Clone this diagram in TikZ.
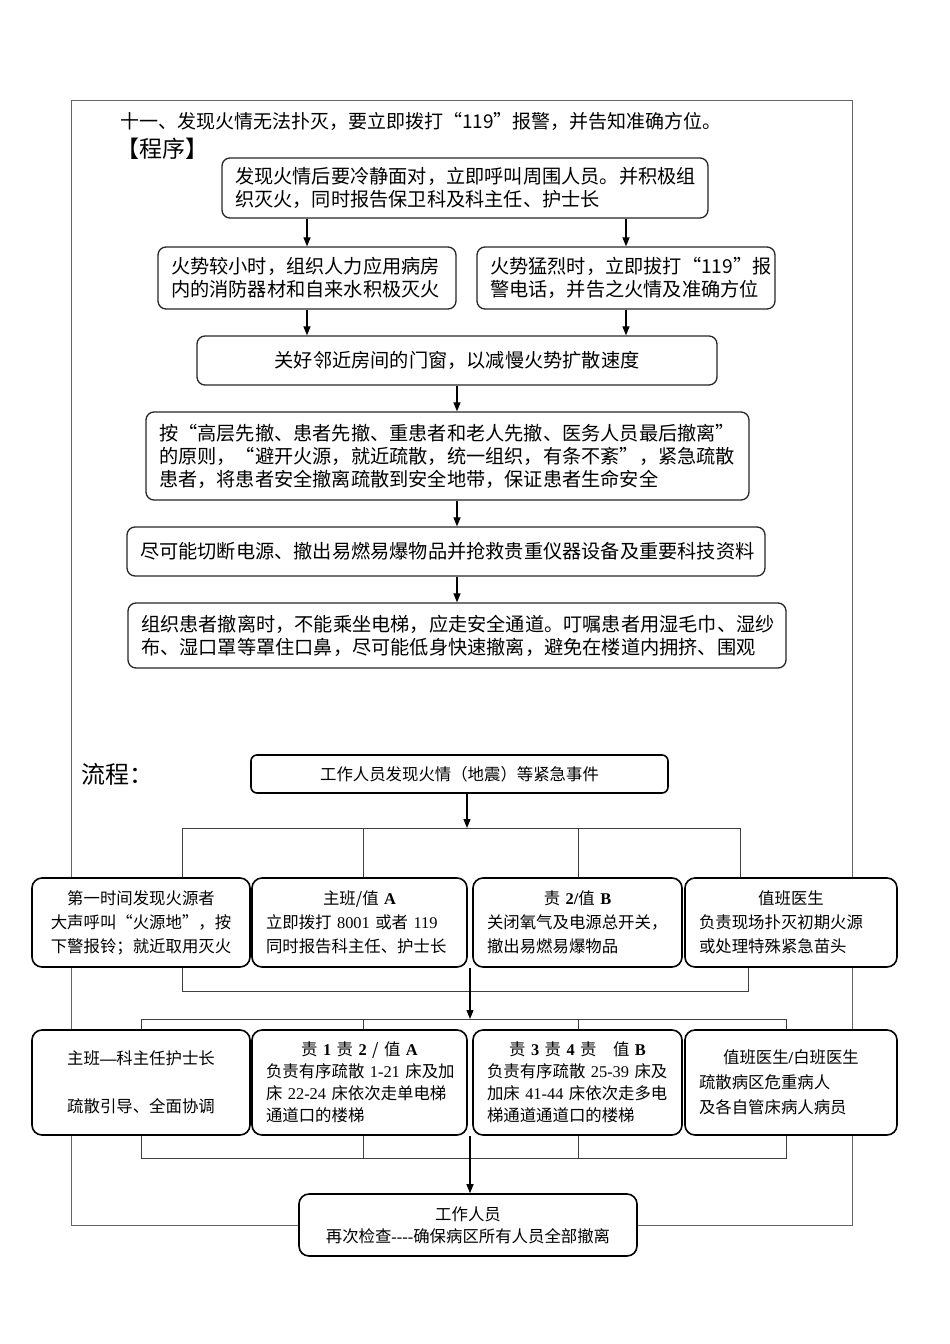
\documentclass[tikz,border=0pt]{standalone}
\usepackage{fontspec}
\setmainfont{Noto Sans CJK SC}
\newfontfamily\lat{Liberation Serif}
\usetikzlibrary{arrows.meta,backgrounds}

\newcommand\hd[1]{\makebox[\hsize]{#1}}

\tikzset{
  tbox/.style={draw=black!85, line width=1.3pt, rounded corners=8pt, fill=white,
    inner xsep=13pt, inner ysep=0pt, align=left, font=\fontsize{19.2}{23}\selectfont},
  lbox/.style={draw=black, line width=1.6pt, rounded corners=10pt, fill=white,
    inner xsep=14pt, inner ysep=0pt, align=left, font=\fontsize{16.4}{24}\selectfont},
  arr/.style={-{Triangle[length=9pt,width=7pt]}, line width=1.2pt},
  conn/.style={draw=black!75, line width=1pt},
  frame/.style={draw=black!60, line width=1pt},
}

\begin{document}
\begin{tikzpicture}[x=1pt,y=-1pt]
  \useasboundingbox (0,0) rectangle (950,1344);

  \node[anchor=west, inner sep=0pt, font=\fontsize{19}{23}\selectfont] (title) at (120,121)
    {十一、发现火情无法扑灭，要立即拨打“119”报警，并告知准确方位。};
  \node[anchor=west, inner sep=0pt, font=\fontsize{23}{27}\selectfont] (prog) at (116,149) {【程序】};

  \node[tbox, text width=460pt, minimum height=60pt] (find) at (465,188)
    {发现火情后要冷静面对，立即呼叫周围人员。并积极组\\织灭火，同时报告保卫科及科主任、护士长};
  \node[tbox, text width=272pt, minimum height=62pt] (small) at (307,278)
    {火势较小时，组织人力应用病房\\内的消防器材和自来水积极灭火};
  \node[tbox, text width=272pt, minimum height=62pt] (big) at (626,278)
    {火势猛烈时，立即拔打“119”报\\警电话，并告之火情及准确方位};
  \node[tbox, align=center, text width=494pt, minimum height=49pt] (close) at (457,360.5)
    {关好邻近房间的门窗，以减慢火势扩散速度};
  \node[tbox, text width=577pt, minimum height=88pt] (evac) at (447.5,456)
    {按“高层先撤、患者先撤、重患者和老人先撤、医务人员最后撤离”\\的原则，“避开火源，就近疏散，统一组织，有条不紊”，紧急疏散\\患者，将患者安全撤离疏散到安全地带，保证患者生命安全};
  \node[tbox, text width=612pt, minimum height=49pt] (power) at (446,551.5)
    {尽可能切断电源、撤出易燃易爆物品并抢救贵重仪器设备及重要科技资料};
  \node[tbox, text width=632pt, minimum height=65pt] (exit) at (457,635.5)
    {组织患者撤离时，不能乘坐电梯，应走安全通道。叮嘱患者用湿毛巾、湿纱\\布、湿口罩等罩住口鼻，尽可能低身快速撤离，避免在楼道内拥挤、围观};

  \draw[arr] (small |- find.south) -- (small);
  \draw[arr] (big |- find.south) -- (big);
  \draw[arr] (small) -- (small |- close.north);
  \draw[arr] (big) -- (big |- close.north);
  \draw[arr] (close) -- (close |- evac.north);
  \draw[arr] (close |- evac.south) -- (close |- power.north);
  \draw[arr] (close |- power.south) -- (close |- exit.north);

  \node[anchor=west, inner sep=0pt, font=\fontsize{24}{28}\selectfont] (flow) at (81,774) {流程：};

  \node[lbox, rounded corners=6pt, align=center, text width=389pt, minimum height=38pt] (event) at (459.5,774)
    {工作人员发现火情（地震）等紧急事件};

  \node[lbox, align=center, text width=190pt, minimum height=89pt] (first) at (141,922.5)
    {第一时间发现火源者\\大声呼叫“火源地”，按\\下警报铃；就近取用灭火};
  \node[lbox, text width=187pt, minimum height=89pt] (duty) at (359.5,922.5)
    {\hd{主班/值~{\lat\bfseries A}}\\\mbox{立即拨打~{\lat 8001}~或者~{\lat 119}}\\同时报告科主任、护士长};
  \node[lbox, text width=181pt, minimum height=89pt] (nurse) at (577.5,922.5)
    {\hd{责~{\lat\bfseries 2/}值~{\lat\bfseries B}}\\关闭氧气及电源总开关，\\撤出易燃易爆物品};
  \node[lbox, text width=184pt, minimum height=89pt] (doctor) at (791,922.5)
    {\hd{值班医生}\\负责现场扑灭初期火源\\或处理特殊紧急苗头};

  \node[lbox, align=center, text width=190pt, minimum height=105pt] (lead) at (141,1082.5)
    {主班{\lat\bfseries —}科主任护士长\\[24pt]疏散引导、全面协调};
  \node[lbox, text width=187pt, minimum height=105pt, font=\fontsize{16.4}{22}\selectfont] (groupa) at (359.5,1082.5)
    {\hd{责~{\lat\bfseries 1}~责~{\lat\bfseries 2}~/~值~{\lat\bfseries A}}\\\mbox{负责有序疏散~{\lat 1-21}~床及加}\\\mbox{床~{\lat 22-24}~床依次走单电梯}\\通道口的楼梯};
  \node[lbox, text width=181pt, minimum height=105pt, font=\fontsize{16.4}{22}\selectfont] (groupb) at (577.5,1082.5)
    {\hd{责~{\lat\bfseries 3}~责~{\lat\bfseries 4}~责\quad 值~{\lat\bfseries B}}\\\mbox{负责有序疏散~{\lat 25-39}~床及}\\\mbox{加床~{\lat 41-44}~床依次走多电}\\梯通道通道口的楼梯};
  \node[lbox, text width=184pt, minimum height=105pt, font=\fontsize{16.4}{25}\selectfont] (medic) at (791,1082.5)
    {\hd{值班医生{\lat\bfseries /}白班医生}\\疏散病区危重病人\\及各自管床病人病员};

  \node[lbox, align=center, text width=310pt, minimum height=62pt, font=\fontsize{16.4}{22}\selectfont] (check) at (468,1225)
    {工作人员\\再次检查{\lat -{}-{}-{}-}确保病区所有人员全部撤离};

  \coordinate (ta) at (182,828);
  \coordinate (tb) at (363,828);
  \coordinate (tc) at (578,828);
  \coordinate (td) at (740,828);
  \coordinate (tm) at (467,828);
  \draw[arr] (tm |- event.south) -- (tm);
  \draw[conn] (ta) -- (td);
  \foreach \c/\n in {ta/first,tb/duty,tc/nurse,td/doctor}
    \draw[conn] (\c) -- (\c |- \n.north);

  \coordinate (ma) at (182,991);
  \coordinate (md) at (748,991);
  \coordinate (mm) at (470,1019);
  \draw[conn] (ma |- first.south) -- (ma) -- (md) -- (md |- doctor.south);
  \draw[arr] (mm |- duty.south) -- (mm);

  \coordinate (na) at (141,1019);
  \coordinate (nb) at (363,1019);
  \coordinate (nc) at (578,1019);
  \coordinate (nd) at (786,1019);
  \draw[conn] (na) -- (nd);
  \foreach \c/\n in {na/lead,nb/groupa,nc/groupb,nd/medic}
    \draw[conn] (\c) -- (\c |- \n.north);

  \coordinate (pa) at (141,1158);
  \coordinate (pb) at (363,1158);
  \coordinate (pc) at (578,1158);
  \coordinate (pd) at (786,1158);
  \draw[conn] (pa |- lead.south) -- (pa) -- (pd) -- (pd |- medic.south);
  \draw[conn] (pb |- groupa.south) -- (pb);
  \draw[conn] (pc |- groupb.south) -- (pc);
  \draw[arr] (mm |- groupa.south) -- (mm |- check.north);

  \coordinate (fnw) at (71,100);
  \coordinate (fne) at (852,100);
  \begin{scope}[on background layer]
    \draw[frame] (check.west) -| (fnw) -- (fne) |- (check.east);
  \end{scope}
\end{tikzpicture}
\end{document}
